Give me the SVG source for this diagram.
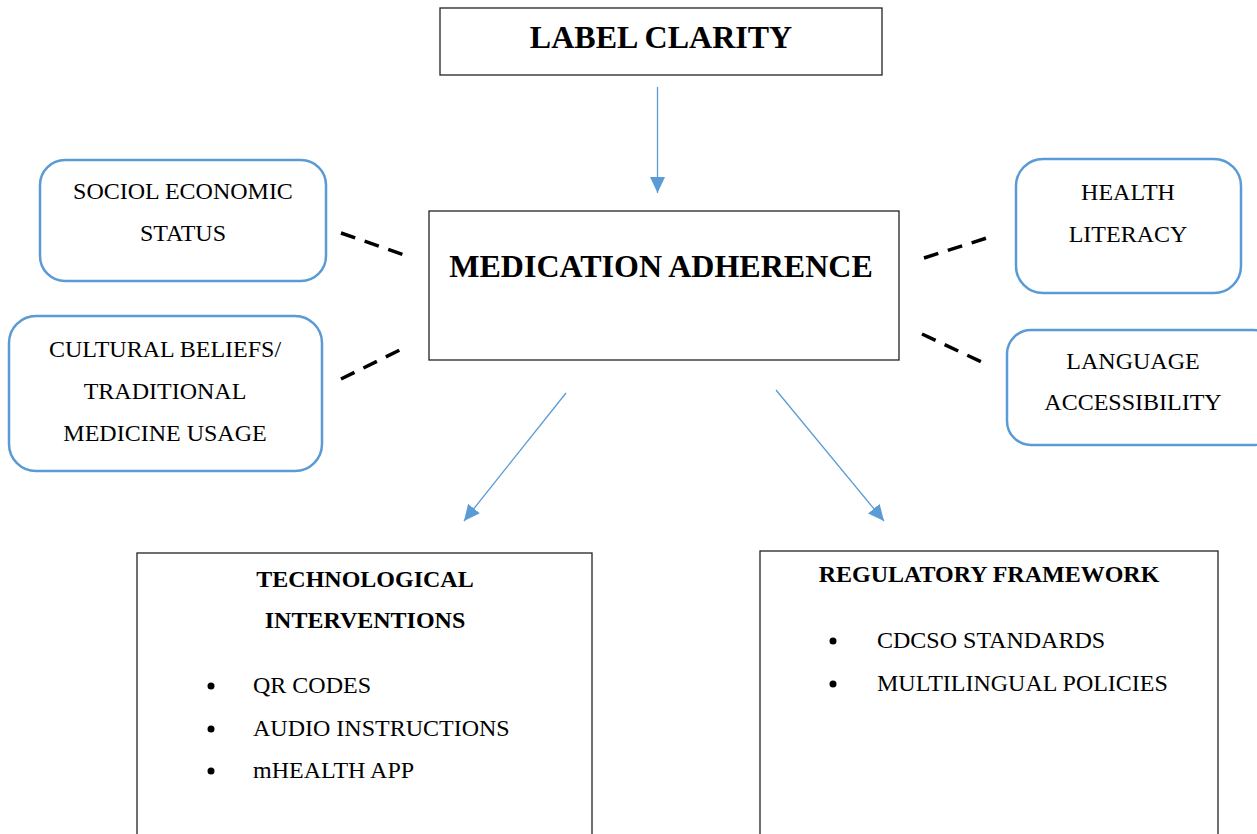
<svg xmlns="http://www.w3.org/2000/svg" width="1257" height="834" viewBox="0 0 1257 834">
<style>
.box{fill:#fff;stroke:#222;stroke-width:1.3}
.rbox{fill:#fff;stroke:#5b9bd5;stroke-width:2.5}
.t{font-family:"Liberation Serif","Times New Roman",serif;fill:#000}
.n{font-size:24px}
.ttl{font-size:32px;font-weight:bold}
.sub{font-size:24px;font-weight:bold}
.arrow{stroke:#5b9bd5;stroke-width:1.3;fill:none}
.dash{stroke:#000;stroke-width:3.5;stroke-dasharray:15 10;fill:none}
</style>
<defs>
<marker id="ah" viewBox="0 0 10 10" refX="10" refY="5" markerWidth="16" markerHeight="15" markerUnits="userSpaceOnUse" orient="auto" preserveAspectRatio="none">
<path d="M0,0 L10,5 L0,10 z" fill="#5b9bd5"/>
</marker>
</defs>
<rect width="1257" height="834" fill="#fff"/>
<g id="connectors">
<line class="arrow" x1="657.5" y1="87" x2="657.5" y2="193" marker-end="url(#ah)"/>
<line class="arrow" x1="566" y1="393" x2="464" y2="521" marker-end="url(#ah)"/>
<line class="arrow" x1="776" y1="390" x2="884" y2="521" marker-end="url(#ah)"/>
<line class="dash" x1="341" y1="233" x2="410" y2="257"/>
<line class="dash" x1="341" y1="379" x2="406" y2="347"/>
<line class="dash" x1="924" y1="258" x2="993" y2="236"/>
<line class="dash" x1="922" y1="334" x2="988" y2="365"/>
</g>
<g id="label-clarity">
<rect class="box" x="440" y="8" width="442" height="67"/>
<text class="t ttl" x="661" y="48" text-anchor="middle">LABEL CLARITY</text>
</g>
<g id="medication-adherence">
<rect class="box" x="429" y="211" width="470" height="149"/>
<text class="t ttl" x="661" y="277" text-anchor="middle">MEDICATION ADHERENCE</text>
</g>
<g id="socio-economic">
<rect class="rbox" x="40" y="160" width="286" height="121" rx="25"/>
<text class="t n" x="183" y="199" text-anchor="middle">SOCIOL ECONOMIC</text>
<text class="t n" x="183" y="241" text-anchor="middle">STATUS</text>
</g>
<g id="cultural-beliefs">
<rect class="rbox" x="9" y="316" width="313" height="155" rx="27"/>
<text class="t n" x="165" y="357" text-anchor="middle">CULTURAL BELIEFS/</text>
<text class="t n" x="165" y="399" text-anchor="middle">TRADITIONAL</text>
<text class="t n" x="165" y="441" text-anchor="middle">MEDICINE USAGE</text>
</g>
<g id="health-literacy">
<rect class="rbox" x="1016" y="159" width="225" height="134" rx="27"/>
<text class="t n" x="1128" y="200" text-anchor="middle">HEALTH</text>
<text class="t n" x="1128" y="242" text-anchor="middle">LITERACY</text>
</g>
<g id="language-accessibility">
<rect class="rbox" x="1007" y="330" width="270" height="115" rx="24"/>
<text class="t n" x="1133" y="369" text-anchor="middle">LANGUAGE</text>
<text class="t n" x="1133" y="410" text-anchor="middle">ACCESSIBILITY</text>
</g>
<g id="technological-interventions">
<rect class="box" x="137" y="553" width="455" height="300"/>
<text class="t sub" x="365" y="587" text-anchor="middle">TECHNOLOGICAL</text>
<text class="t sub" x="365" y="628" text-anchor="middle">INTERVENTIONS</text>
<circle cx="211" cy="686" r="3.5"/>
<circle cx="211" cy="729" r="3.5"/>
<circle cx="211" cy="771" r="3.5"/>
<text class="t n" x="253" y="693">QR CODES</text>
<text class="t n" x="253" y="736">AUDIO INSTRUCTIONS</text>
<text class="t n" x="253" y="778">mHEALTH APP</text>
</g>
<g id="regulatory-framework">
<rect class="box" x="760" y="551" width="458" height="300"/>
<text class="t sub" x="989" y="582" text-anchor="middle">REGULATORY FRAMEWORK</text>
<circle cx="833" cy="641" r="3.5"/>
<circle cx="833" cy="684" r="3.5"/>
<text class="t n" x="877" y="648">CDCSO STANDARDS</text>
<text class="t n" x="877" y="691">MULTILINGUAL POLICIES</text>
</g>
</svg>
